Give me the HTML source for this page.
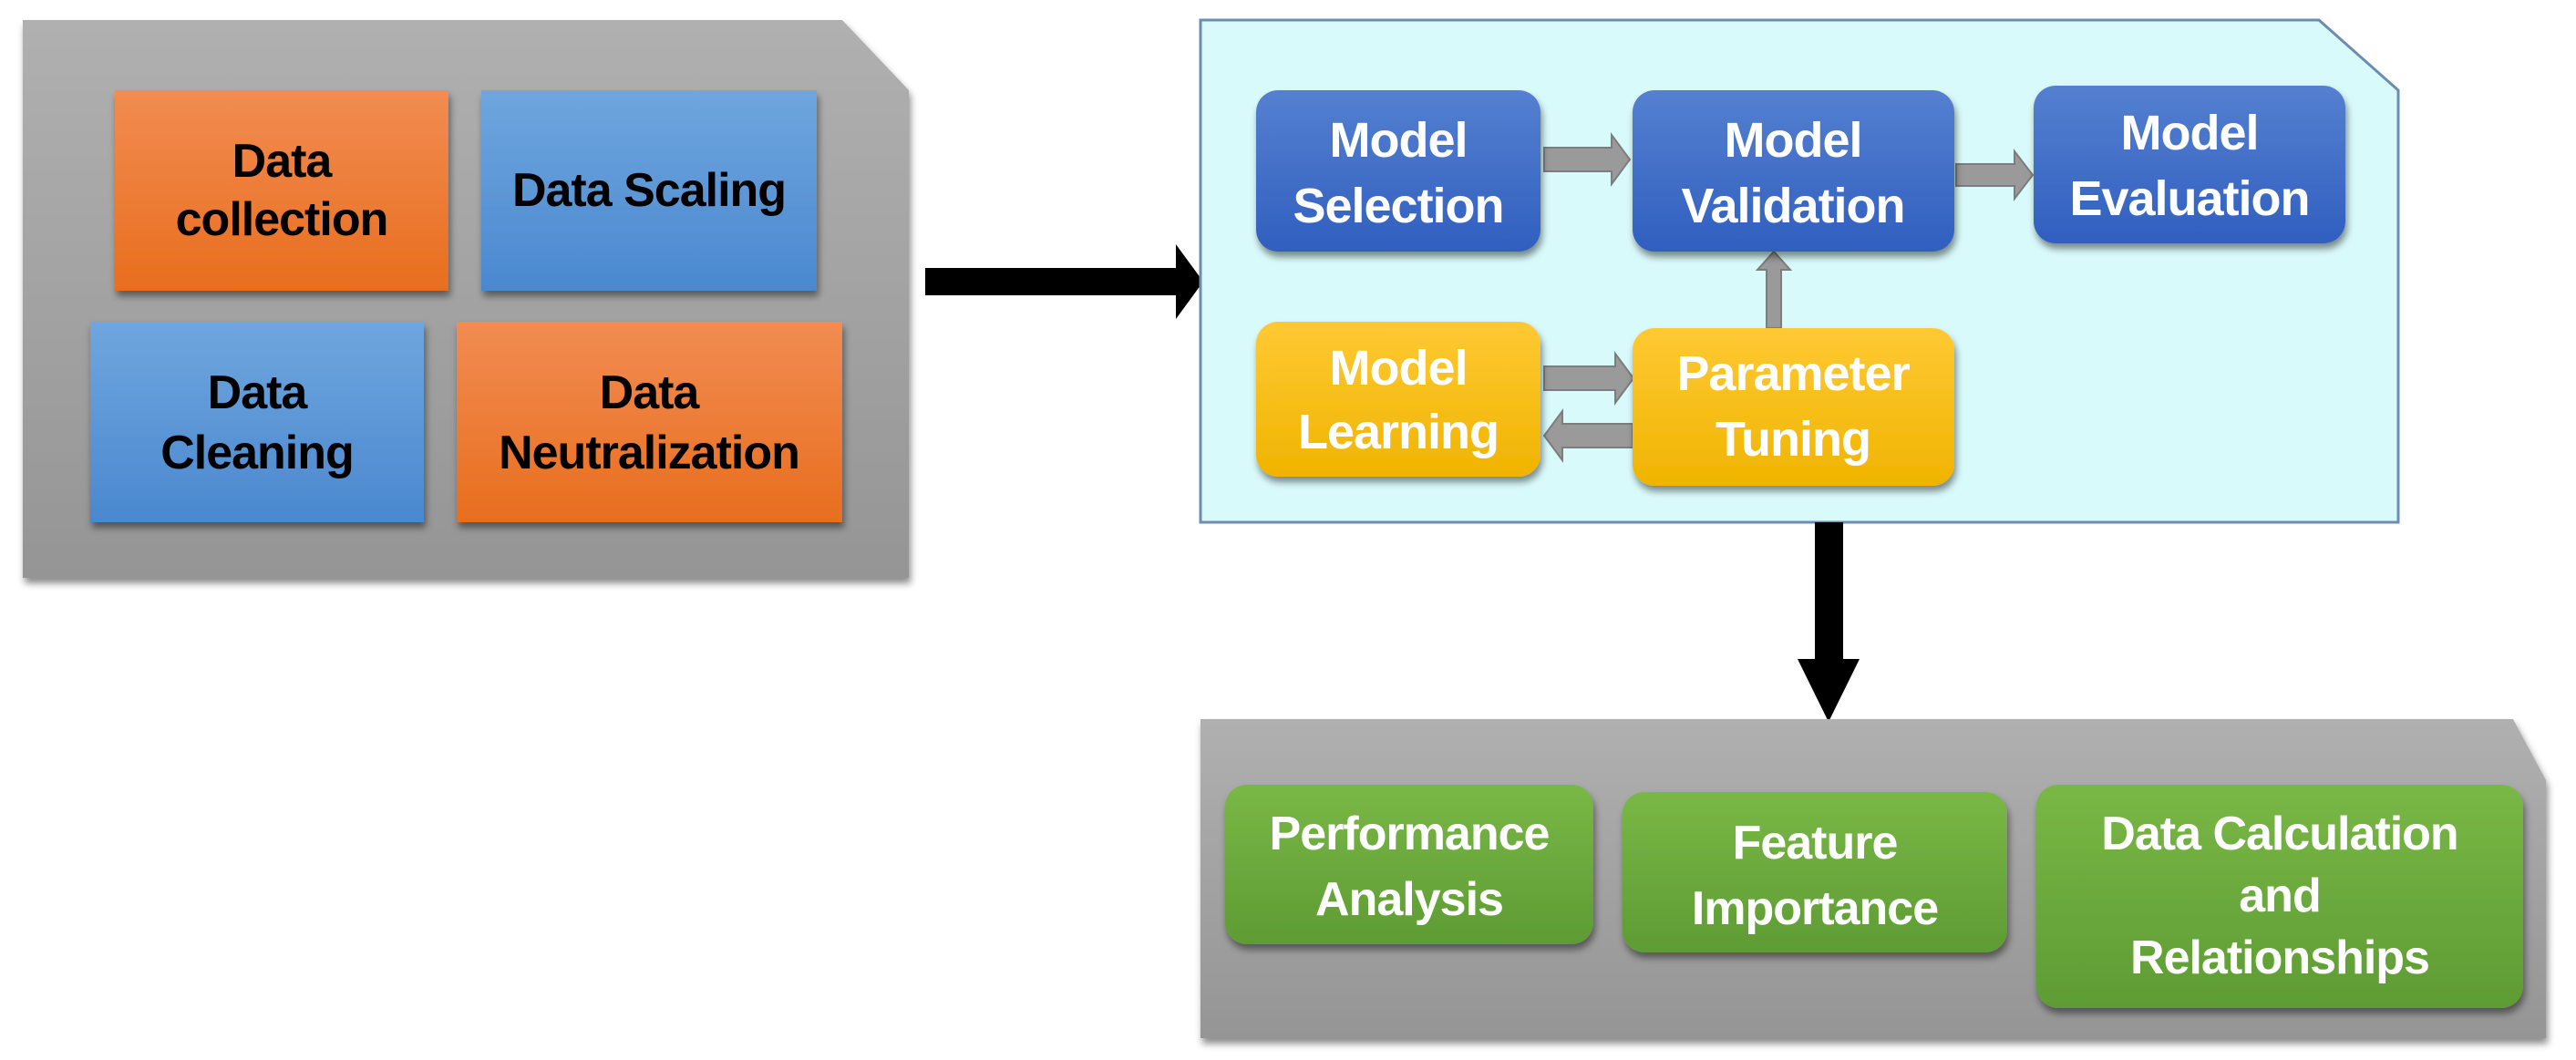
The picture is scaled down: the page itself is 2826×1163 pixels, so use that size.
<!DOCTYPE html>
<html><head><meta charset="utf-8"><style>
html,body{margin:0;padding:0;background:#fff;width:2826px;height:1163px;overflow:hidden}
svg text{font-family:"Liberation Sans",sans-serif;font-weight:bold;text-anchor:middle}
</style></head><body>
<svg width="2826" height="1163" viewBox="0 0 2826 1163" xmlns="http://www.w3.org/2000/svg">
<defs>
<linearGradient id="gray" x1="0" y1="0" x2="0" y2="1"><stop offset="0" stop-color="#b0b0b0"/><stop offset="1" stop-color="#959595"/></linearGradient>
<linearGradient id="or" x1="0" y1="0" x2="0" y2="1"><stop offset="0" stop-color="#f28c52"/><stop offset="1" stop-color="#e86e1e"/></linearGradient>
<linearGradient id="bl" x1="0" y1="0" x2="0" y2="1"><stop offset="0" stop-color="#6fa6de"/><stop offset="1" stop-color="#4a88cf"/></linearGradient>
<linearGradient id="db" x1="0" y1="0" x2="0" y2="1"><stop offset="0" stop-color="#5580d0"/><stop offset="1" stop-color="#305fbf"/></linearGradient>
<linearGradient id="ye" x1="0" y1="0" x2="0" y2="1"><stop offset="0" stop-color="#ffc934"/><stop offset="1" stop-color="#f0b400"/></linearGradient>
<linearGradient id="gr" x1="0" y1="0" x2="0" y2="1"><stop offset="0" stop-color="#79b746"/><stop offset="1" stop-color="#5e9c34"/></linearGradient>
<filter id="sh" x="-10%" y="-10%" width="130%" height="130%"><feDropShadow dx="2" dy="6" stdDeviation="4" flood-color="#000" flood-opacity="0.45"/></filter>
</defs>

<!-- left panel -->
<path d="M25 22 H924 L997 99 V634 H25 Z" fill="url(#gray)" filter="url(#sh)"/>
<rect x="126" y="99" width="366" height="220" fill="url(#or)" filter="url(#sh)"/>
<rect x="528" y="99" width="368" height="220" fill="url(#bl)" filter="url(#sh)"/>
<rect x="99" y="353" width="366" height="220" fill="url(#bl)" filter="url(#sh)"/>
<rect x="501" y="353" width="423" height="220" fill="url(#or)" filter="url(#sh)"/>
<g font-size="52" fill="#000" letter-spacing="-1">
<text x="309" y="194">Data</text><text x="309" y="258">collection</text>
<text x="712" y="226">Data Scaling</text>
<text x="282" y="448">Data</text><text x="282" y="514">Cleaning</text>
<text x="712" y="448">Data</text><text x="712" y="514">Neutralization</text>
</g>

<!-- big right arrow -->
<path d="M1015 294 H1290 V268 L1320 309 L1290 350 V324 H1015 Z" fill="#000"/>

<!-- cyan panel -->
<path d="M1317 22 H2544 L2631 99 V573 H1317 Z" fill="#d9fafb" stroke="#6d8cb0" stroke-width="3"/>

<!-- gray arrows -->
<g fill="#9a9a9a" stroke="#7d7d7d" stroke-width="2">
<path d="M1694 162 H1768 V148 L1788 175 L1768 202 V188 H1694 Z"/>
<path d="M2146 180 H2210 V166 L2230 192 L2210 218 V204 H2146 Z"/>
<path d="M1938 360 V296 H1928 L1946 276 L1964 296 H1954 V360 Z"/>
<path d="M1694 402 H1772 V388 L1792 415 L1772 442 V428 H1694 Z"/>
<path d="M1791 465 H1714 V451 L1694 478 L1714 505 V491 H1791 Z"/>
</g>

<g filter="url(#sh)">
<rect x="1378" y="99" width="312" height="177" rx="24" fill="url(#db)"/>
<rect x="1791" y="99" width="353" height="177" rx="24" fill="url(#db)"/>
<rect x="2231" y="94" width="342" height="173" rx="24" fill="url(#db)"/>
<rect x="1378" y="353" width="312" height="170" rx="24" fill="url(#ye)"/>
<rect x="1791" y="360" width="353" height="173" rx="24" fill="url(#ye)"/>
</g>
<g font-size="54" fill="#fff" letter-spacing="-1">
<text x="1534" y="172">Model</text><text x="1534" y="244">Selection</text>
<text x="1967" y="172">Model</text><text x="1967" y="244">Validation</text>
<text x="2402" y="164">Model</text><text x="2402" y="236">Evaluation</text>
<text x="1534" y="422">Model</text><text x="1534" y="492">Learning</text>
<text x="1967" y="428">Parameter</text><text x="1967" y="500">Tuning</text>
</g>

<!-- down arrow -->
<path d="M1991 573 H2022 V723 H2040 L2006 792 L1972 723 H1991 Z" fill="#000"/>

<!-- bottom panel -->
<path d="M1317 789 H2757 L2793 856 V1139 H1317 Z" fill="url(#gray)" filter="url(#sh)"/>
<g filter="url(#sh)">
<rect x="1344" y="861" width="404" height="175" rx="24" fill="url(#gr)"/>
<rect x="1780" y="869" width="422" height="176" rx="24" fill="url(#gr)"/>
<rect x="2234" y="861" width="534" height="245" rx="24" fill="url(#gr)"/>
</g>
<g font-size="52" fill="#fff" letter-spacing="-1">
<text x="1546" y="932">Performance</text><text x="1546" y="1004">Analysis</text>
<text x="1991" y="942">Feature</text><text x="1991" y="1014">Importance</text>
<text x="2501" y="932">Data Calculation</text><text x="2501" y="1000">and</text><text x="2501" y="1068">Relationships</text>
</g>
</svg>
</body></html>
